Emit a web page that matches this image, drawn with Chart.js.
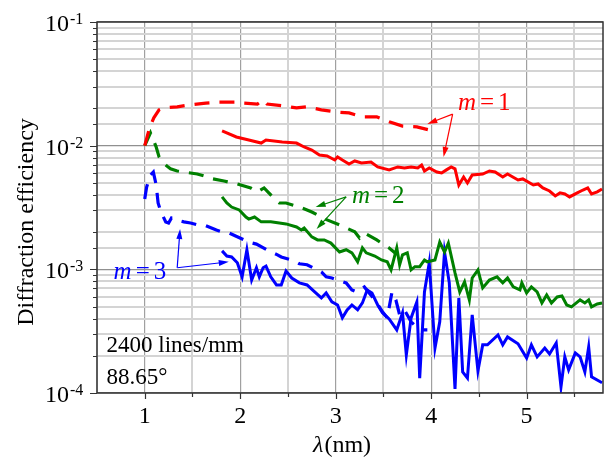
<!DOCTYPE html>
<html>
<head>
<meta charset="utf-8">
<script src="https://cdn.jsdelivr.net/npm/chart.js@4.4.1/dist/chart.umd.min.js"></script>
<style>
  body { margin: 0; background: #fff; }
  #wrap { width: 605px; height: 462px; }
</style>
</head>
<body>
<div id="wrap"><canvas id="chart"></canvas></div>
<script>
// m = 1, dashed (red)
const m1DashedX = [1.00, 1.05, 1.095, 1.15, 1.20, 1.34, 1.46, 1.64, 1.78, 1.99, 2.02, 2.18, 2.24, 2.28, 2.44, 2.59, 2.70, 2.85, 3.01, 3.14, 3.28, 3.43, 3.56, 3.70, 3.85, 3.98];
const m1DashedY = [0.0100, 0.0139, 0.0168, 0.0195, 0.0202, 0.0206, 0.0213, 0.0221, 0.0225, 0.0225, 0.0221, 0.0217, 0.0234, 0.0217, 0.0210, 0.0202, 0.0206, 0.0195, 0.0187, 0.0184, 0.0171, 0.0171, 0.0156, 0.0144, 0.0142, 0.0134];

// m = 1, solid (red)
const m1SolidX = [1.81, 1.96, 2.09, 2.22, 2.27, 2.44, 2.59, 2.67, 2.75, 2.83, 2.91, 2.99, 3.02, 3.07, 3.14, 3.20, 3.27, 3.37, 3.44, 3.56, 3.65, 3.72, 3.79, 3.86, 3.90, 3.93, 3.98, 4.06, 4.11, 4.16, 4.21, 4.25, 4.29, 4.34, 4.38, 4.43, 4.54, 4.61, 4.67, 4.75, 4.80, 4.91, 4.96, 5.07, 5.12, 5.17, 5.24, 5.30, 5.35, 5.40, 5.45, 5.53, 5.59, 5.64, 5.68, 5.74, 5.79];
const m1SolidY = [0.01315, 0.01175, 0.0111, 0.0105, 0.0111, 0.0107, 0.0105, 0.00976, 0.00922, 0.00841, 0.00826, 0.00766, 0.00811, 0.00766, 0.00711, 0.00752, 0.00725, 0.00738, 0.00673, 0.00637, 0.00673, 0.00660, 0.00673, 0.00660, 0.00698, 0.00624, 0.00660, 0.00612, 0.00601, 0.00637, 0.00673, 0.00649, 0.00481, 0.00558, 0.00499, 0.00579, 0.00590, 0.00624, 0.00612, 0.00558, 0.00590, 0.00528, 0.00538, 0.00481, 0.00490, 0.00455, 0.00430, 0.00392, 0.00415, 0.00407, 0.00385, 0.00415, 0.00438, 0.00455, 0.00407, 0.00423, 0.00447];

// m = 2, dashed (green)
const m2DashedX = [1.00, 1.06, 1.12, 1.15, 1.18, 1.23, 1.27, 1.34, 1.41, 1.55, 1.62, 1.67, 1.83, 1.97, 2.11, 2.18, 2.25, 2.36, 2.41, 2.48, 2.62, 2.70, 2.75, 2.91, 3.04, 3.20, 3.25, 3.30, 3.43, 3.48, 3.56, 3.62];
const m2DashedY = [0.0100, 0.01268, 0.00976, 0.00811, 0.00752, 0.00686, 0.00649, 0.00624, 0.00612, 0.00590, 0.00569, 0.00548, 0.00518, 0.00490, 0.00455, 0.00423, 0.00455, 0.00371, 0.00344, 0.00344, 0.00319, 0.00302, 0.00291, 0.00251, 0.00229, 0.00201, 0.00179, 0.00197, 0.00173, 0.00163, 0.00149, 0.00136];

// m = 2, solid (green)
const m2SolidX = [1.81, 1.86, 1.91, 1.99, 2.06, 2.09, 2.15, 2.22, 2.32, 2.41, 2.48, 2.59, 2.64, 2.67, 2.75, 2.81, 2.88, 2.95, 3.04, 3.11, 3.17, 3.23, 3.28, 3.32, 3.41, 3.48, 3.54, 3.58, 3.64, 3.67, 3.70, 3.75, 3.79, 3.83, 3.88, 3.93, 3.96, 4.04, 4.09, 4.14, 4.18, 4.25, 4.30, 4.35, 4.40, 4.43, 4.49, 4.54, 4.61, 4.69, 4.75, 4.80, 4.86, 4.93, 4.95, 5.00, 5.05, 5.11, 5.16, 5.21, 5.26, 5.32, 5.37, 5.42, 5.47, 5.56, 5.61, 5.65, 5.68, 5.74, 5.79];
const m2SolidY = [0.00385, 0.00344, 0.00319, 0.00302, 0.00265, 0.00255, 0.00265, 0.00242, 0.00242, 0.00237, 0.00233, 0.00220, 0.00208, 0.00216, 0.00183, 0.00173, 0.00173, 0.00163, 0.00138, 0.00144, 0.00136, 0.00115, 0.00149, 0.00136, 0.00128, 0.00119, 0.00115, 0.00099, 0.00149, 0.00109, 0.00131, 0.00136, 0.00099, 0.00105, 0.00105, 0.00119, 0.00115, 0.00119, 0.00166, 0.00138, 0.00163, 0.000935, 0.000656, 0.000791, 0.000566, 0.000851, 0.00099, 0.000708, 0.000820, 0.000869, 0.000777, 0.000851, 0.000721, 0.000681, 0.000777, 0.000644, 0.000721, 0.000656, 0.000535, 0.000620, 0.000535, 0.000598, 0.000609, 0.000515, 0.000497, 0.000566, 0.000535, 0.000566, 0.000497, 0.000525, 0.000535];

// m = 3, dashed (blue)
const m3DashedX = [1.00, 1.02, 1.06, 1.09, 1.12, 1.14, 1.17, 1.22, 1.25, 1.28, 1.33, 1.41, 1.48, 1.55, 1.62, 1.75, 1.81, 1.88, 2.02, 2.09, 2.17, 2.30, 2.39, 2.43, 2.57, 2.62, 2.70, 2.85, 2.90, 2.96, 3.11, 3.17, 3.22, 3.30, 3.41, 3.49, 3.54, 3.59, 3.63, 3.67, 3.72, 3.79, 3.88, 3.96];
const m3DashedY = [0.00371, 0.00463, 0.00579, 0.00612, 0.00481, 0.00344, 0.00291, 0.00242, 0.00237, 0.00260, 0.00251, 0.00242, 0.00237, 0.00229, 0.00229, 0.00208, 0.00201, 0.00197, 0.00176, 0.00166, 0.00160, 0.00141, 0.00131, 0.00126, 0.00117, 0.00111, 0.00109, 0.000953, 0.000869, 0.000851, 0.000777, 0.000681, 0.000656, 0.000721, 0.000566, 0.000453, 0.000405, 0.000656, 0.000566, 0.000428, 0.000470, 0.000376, 0.000324, 0.000324];

// m = 3, solid (blue)
const m3SolidX = [1.81, 1.86, 1.91, 1.97, 2.02, 2.07, 2.12, 2.17, 2.20, 2.24, 2.27, 2.32, 2.38, 2.43, 2.48, 2.54, 2.62, 2.70, 2.78, 2.85, 2.90, 2.96, 3.02, 3.07, 3.12, 3.17, 3.23, 3.28, 3.33, 3.38, 3.44, 3.49, 3.56, 3.64, 3.70, 3.74, 3.79, 3.85, 3.88, 3.93, 3.98, 4.04, 4.09, 4.14, 4.19, 4.25, 4.29, 4.33, 4.38, 4.43, 4.49, 4.54, 4.59, 4.70, 4.75, 4.80, 4.91, 5.00, 5.05, 5.11, 5.19, 5.24, 5.31, 5.36, 5.40, 5.44, 5.51, 5.56, 5.61, 5.65, 5.68, 5.79];
const m3SolidY = [0.00141, 0.00128, 0.00126, 0.00113, 0.000869, 0.00144, 0.000820, 0.00103, 0.000869, 0.00103, 0.00106, 0.000869, 0.000748, 0.000748, 0.000970, 0.000851, 0.000777, 0.000748, 0.000656, 0.000587, 0.000644, 0.000545, 0.000515, 0.000405, 0.000470, 0.000515, 0.000470, 0.000535, 0.000681, 0.000644, 0.000515, 0.000445, 0.000397, 0.000324, 0.000445, 0.000203, 0.000405, 0.000545, 0.000132, 0.000656, 0.00113, 0.000231, 0.000376, 0.00138, 0.000777, 0.000108, 0.000587, 0.000148, 0.000132, 0.000428, 0.000151, 0.000245, 0.000245, 0.000295, 0.000245, 0.000284, 0.000250, 0.000192, 0.000245, 0.000196, 0.000231, 0.000207, 0.000254, 0.000112, 0.000196, 0.000154, 0.000211, 0.000196, 0.000148, 0.000236, 0.000135, 0.000121];

// order labels with arrows (data coordinates)
const orderLabels = ['1', '2', '3'];
const labelPos = [[4.28, 0.0195], [3.17, 0.00344], [0.674, 0.000835]];
const arrowFrom = [[4.225, 0.0180], [3.11, 0.00385], [1.34, 0.00103]];
const arrowTips = [
  [[3.96, 0.0150], [4.13, 0.00811]],
  [[2.79, 0.00319], [2.80, 0.00212]],
  [[1.37, 0.00212], [1.88, 0.00115]]
];

const RED = '#ff0000', GREEN = '#008000', BLUE = '#0000ff';
const colors = [RED, GREEN, BLUE];
const SERIF = "'Liberation Serif', 'Times New Roman', serif";

const pts = (xs, ys) => xs.map((x, i) => ({ x: x, y: ys[i] }));
const isDecade = v => Math.abs(Math.log10(v) - Math.round(Math.log10(v))) < 1e-6;
const isInt = v => Math.abs(v - Math.round(v)) < 1e-6;

function series(xs, ys, color, dashed) {
  return {
    data: pts(xs, ys),
    borderColor: color,
    borderWidth: dashed ? 3.2 : 3,
    borderDash: dashed ? [15, 10] : [],
    pointRadius: 0,
    showLine: true,
    tension: 0,
    fill: false
  };
}

function arrow(ctx, x0, y0, x1, y1, color) {
  const ang = Math.atan2(y1 - y0, x1 - x0);
  const len = 10, hw = 3;
  ctx.strokeStyle = color;
  ctx.fillStyle = color;
  ctx.lineWidth = 1.2;
  ctx.beginPath();
  ctx.moveTo(x0, y0);
  ctx.lineTo(x1 - Math.cos(ang) * len * 0.8, y1 - Math.sin(ang) * len * 0.8);
  ctx.stroke();
  ctx.beginPath();
  ctx.moveTo(x1, y1);
  ctx.lineTo(x1 - Math.cos(ang) * len - Math.sin(ang) * hw, y1 - Math.sin(ang) * len + Math.cos(ang) * hw);
  ctx.lineTo(x1 - Math.cos(ang) * len + Math.sin(ang) * hw, y1 - Math.sin(ang) * len - Math.cos(ang) * hw);
  ctx.closePath();
  ctx.fill();
}

const decor = {
  id: 'decor',
  afterDraw(chart) {
    const { ctx, chartArea: a, scales: { x, y } } = chart;
    ctx.save();

    // frame
    ctx.strokeStyle = '#333';
    ctx.lineWidth = 1.5;
    ctx.strokeRect(a.left, a.top, a.right - a.left, a.bottom - a.top);

    // tick marks
    ctx.lineWidth = 1.2;
    ctx.beginPath();
    y.ticks.forEach(t => {
      const py = Math.round(y.getPixelForValue(t.value)) + 0.5;
      const l = isDecade(t.value) ? 7 : 4;
      ctx.moveTo(a.left - l, py);
      ctx.lineTo(a.left, py);
    });
    x.ticks.forEach(t => {
      if (t.value <= x.min + 1e-6) return;
      const px = Math.round(x.getPixelForValue(t.value)) + 0.5;
      const l = isInt(t.value) ? 6 : 4;
      ctx.moveTo(px, a.bottom);
      ctx.lineTo(px, a.bottom + l);
    });
    ctx.stroke();

    // tick labels
    ctx.fillStyle = '#000';
    ctx.textBaseline = 'alphabetic';
    y.ticks.forEach(t => {
      if (!isDecade(t.value)) return;
      const py = y.getPixelForValue(t.value);
      const e = Math.round(Math.log10(t.value));
      ctx.font = '24px ' + SERIF;
      ctx.textAlign = 'right';
      ctx.fillText('10', 69, py + 9);
      ctx.font = '16px ' + SERIF;
      ctx.textAlign = 'left';
      ctx.fillText(String(e), 70, py + 2);
    });
    ctx.font = '24px ' + SERIF;
    ctx.textAlign = 'center';
    x.ticks.forEach(t => {
      if (!isInt(t.value)) return;
      ctx.fillText(String(t.value), x.getPixelForValue(t.value), 423);
    });

    // axis titles
    ctx.save();
    ctx.translate(33, 222);
    ctx.rotate(-Math.PI / 2);
    ctx.textAlign = 'center';
    ctx.fillText('Diffraction efficiency', 0, 0);
    ctx.restore();

    ctx.textAlign = 'left';
    ctx.font = 'italic 24px ' + SERIF;
    const lx = 313;
    ctx.fillText('λ', lx, 452);
    const lw = ctx.measureText('λ').width;
    ctx.font = '24px ' + SERIF;
    ctx.fillText('(nm)', lx + lw + 1, 452);

    // grating info
    ctx.font = '23px ' + SERIF;
    ctx.fillText('2400 lines/mm', x.getPixelForValue(0.60), 352);
    ctx.fillText('88.65°', x.getPixelForValue(0.60), 384);

    // order labels and arrows
    orderLabels.forEach((m, i) => {
      const c = colors[i];
      const tx = x.getPixelForValue(labelPos[i][0]);
      const ty = y.getPixelForValue(labelPos[i][1]);
      ctx.fillStyle = c;
      ctx.font = 'italic 25px ' + SERIF;
      ctx.fillText('m', tx, ty);
      let cx = tx + ctx.measureText('m').width + 4;
      ctx.font = '25px ' + SERIF;
      ctx.fillText('=', cx, ty);
      cx += ctx.measureText('=').width + 4;
      ctx.fillText(m, cx, ty);

      const fx = x.getPixelForValue(arrowFrom[i][0]);
      const fy = y.getPixelForValue(arrowFrom[i][1]);
      arrowTips[i].forEach(tp => {
        arrow(ctx, fx, fy, x.getPixelForValue(tp[0]), y.getPixelForValue(tp[1]), c);
      });
    });

    ctx.restore();
  }
};

new Chart(document.getElementById('chart'), {
  type: 'scatter',
  data: {
    datasets: [
      series(m1DashedX, m1DashedY, RED, true),
      series(m1SolidX, m1SolidY, RED, false),
      series(m2DashedX, m2DashedY, GREEN, true),
      series(m2SolidX, m2SolidY, GREEN, false),
      series(m3DashedX, m3DashedY, BLUE, true),
      series(m3SolidX, m3SolidY, BLUE, false)
    ]
  },
  options: {
    responsive: true,
    maintainAspectRatio: false,
    animation: false,
    layout: { padding: { left: 0, right: 2, top: 22, bottom: 0 } },
    plugins: { legend: { display: false }, tooltip: { enabled: false } },
    scales: {
      x: {
        type: 'linear',
        min: 0.5,
        max: 5.8,
        border: { display: false },
        grid: {
          drawTicks: false,
          color: c => isInt(c.tick.value) ? '#a0a0a0' : '#d4d4d4',
          lineWidth: c => isInt(c.tick.value) ? 1.2 : 2
        },
        ticks: { stepSize: 0.5, includeBounds: false, autoSkip: false, callback: () => '' },
        afterFit: s => { s.height = 69; }
      },
      y: {
        type: 'logarithmic',
        min: 1e-4,
        max: 1e-1,
        border: { display: false },
        grid: {
          drawTicks: false,
          color: c => isDecade(c.tick.value) ? '#909090' : '#d4d4d4',
          lineWidth: c => isDecade(c.tick.value) ? 1.2 : 2
        },
        ticks: { autoSkip: false, callback: () => '' },
        afterFit: s => { s.width = 97; }
      }
    }
  },
  plugins: [decor]
});
</script>
</body>
</html>
